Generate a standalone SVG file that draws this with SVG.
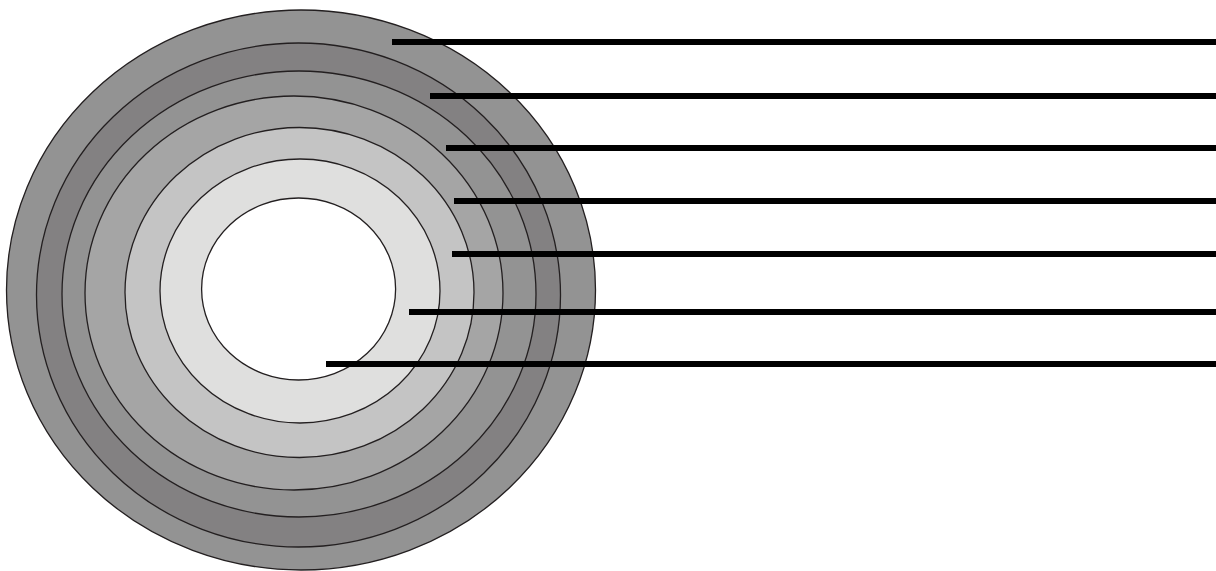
<svg xmlns="http://www.w3.org/2000/svg" width="1216" height="571" viewBox="0 0 1216 571">
  <style>
    .ring { stroke: #231f20; stroke-width: 1.3; }
    .leader { stroke: #000000; stroke-width: 6; stroke-linecap: butt; fill: none; }
  </style>
  <rect x="0" y="0" width="1216" height="571" fill="#ffffff"/>
  <g id="layers">
    <g id="layer1"><ellipse class="ring" cx="301" cy="290" rx="294.5" ry="280" fill="#939393"/></g>
    <g id="layer2"><ellipse class="ring" cx="298.5" cy="295" rx="262" ry="252" fill="#838182"/></g>
    <g id="layer3"><ellipse class="ring" cx="299" cy="294" rx="237" ry="223" fill="#939393"/></g>
    <g id="layer4"><ellipse class="ring" cx="294" cy="293" rx="209" ry="197" fill="#a5a5a5"/></g>
    <g id="layer5"><ellipse class="ring" cx="299.5" cy="292.5" rx="174.5" ry="165" fill="#c4c4c4"/></g>
    <g id="layer6"><ellipse class="ring" cx="300" cy="291" rx="140" ry="132" fill="#dfdfde"/></g>
    <g id="core"><ellipse class="ring" cx="298.6" cy="289" rx="97" ry="91" fill="#ffffff"/></g>
  </g>
  <g id="connectors">
    <line class="leader" x1="392" y1="42" x2="1216" y2="42"/>
    <line class="leader" x1="430" y1="96" x2="1216" y2="96"/>
    <line class="leader" x1="446" y1="148" x2="1216" y2="148"/>
    <line class="leader" x1="454" y1="201" x2="1216" y2="201"/>
    <line class="leader" x1="452" y1="254" x2="1216" y2="254"/>
    <line class="leader" x1="409" y1="312" x2="1216" y2="312"/>
    <line class="leader" x1="326" y1="364" x2="1216" y2="364"/>
  </g>
</svg>
